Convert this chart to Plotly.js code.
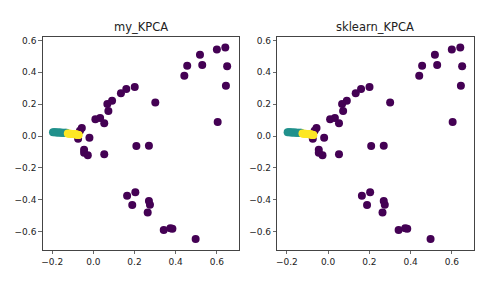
<!DOCTYPE html>
<html>
<head>
<meta charset="utf-8">
<script src="https://cdn.plot.ly/plotly-3.0.1.min.js"></script>
<style>html,body{margin:0;padding:0;background:#fff;}#chart{width:496px;height:291px;}</style>
</head>
<body>
<div id="chart"></div>
<script>
// class 0 (purple)
const purpleX = [0.641,0.600,0.518,0.650,0.529,0.456,0.442,0.644,0.604,0.201,0.160,0.134,0.091,0.068,0.073,0.301,0.033,0.010,0.053,-0.056,-0.065,-0.019,-0.074,0.209,0.270,-0.045,-0.045,-0.027,0.053,0.164,0.204,0.189,0.270,0.275,0.264,0.342,0.374,0.384,0.497];
const purpleY = [0.556,0.543,0.510,0.437,0.445,0.441,0.378,0.316,0.088,0.307,0.295,0.268,0.221,0.201,0.157,0.211,0.113,0.105,0.080,0.050,0.033,-0.011,-0.017,-0.063,-0.061,-0.086,-0.105,-0.121,-0.115,-0.374,-0.353,-0.433,-0.408,-0.431,-0.479,-0.589,-0.579,-0.581,-0.646];
// class 1 (teal)
const tealX = [-0.196,-0.190,-0.184,-0.178,-0.172,-0.166,-0.160,-0.154,-0.148,-0.142,-0.136,-0.131];
const tealY = [0.023,0.023,0.023,0.022,0.022,0.022,0.022,0.021,0.021,0.021,0.020,0.020];
// class 2 (yellow)
const yellowX = [-0.124,-0.119,-0.114,-0.109,-0.104,-0.100,-0.096,-0.092,-0.088,-0.084,-0.080,-0.077,-0.074,-0.071];
const yellowY = [0.016,0.015,0.015,0.014,0.013,0.013,0.012,0.011,0.011,0.010,0.009,0.008,0.007,0.006];

const titles = ["my_KPCA", "sklearn_KPCA"];
const tickVals = [-0.6,-0.4,-0.2,0.0,0.2,0.4,0.6];
const tickText = ["\u22120.6","\u22120.4","\u22120.2","0.0","0.2","0.4","0.6"];
const xTickVals = [-0.2,0.0,0.2,0.4,0.6];
const xTickText = ["\u22120.2","0.0","0.2","0.4","0.6"];

const colors = ["#440154","#21918c","#fde725"];
const msize = 8;
const traces = [];
["x","x2"].forEach((xa, i) => {
  const ya = i === 0 ? "y" : "y2";
  [[purpleX,purpleY,colors[0]],[tealX,tealY,colors[1]],[yellowX,yellowY,colors[2]]].forEach(s => {
    traces.push({x:s[0], y:s[1], xaxis:xa, yaxis:ya, type:"scatter", mode:"markers",
      marker:{color:s[2], size:msize, line:{width:0}}, showlegend:false, hoverinfo:"none"});
  });
});

const font = {family:"DejaVu Sans, sans-serif", size:9, color:"#222"};
function xax(domain, anchor){
  return {domain:domain, anchor:anchor, range:[-0.246,0.706], showgrid:false, zeroline:false,
    showline:true, mirror:true, linecolor:"#444", linewidth:1, ticks:"outside", ticklen:3.5, tickwidth:0.8, tickcolor:"#444",
    tickmode:"array", tickvals:xTickVals, ticktext:xTickText, tickfont:font, fixedrange:true};
}
function yax(anchor){
  return {domain:[0.1409,0.8739], anchor:anchor, range:[-0.715,0.623], showgrid:false, zeroline:false,
    showline:true, mirror:true, linecolor:"#444", linewidth:1, ticks:"outside", ticklen:3.5, tickwidth:0.8, tickcolor:"#444",
    tickmode:"array", tickvals:tickVals, ticktext:tickText, tickfont:font, fixedrange:true};
}
const titleFont = {family:"DejaVu Sans, sans-serif", size:11.5, color:"#222"};
const layout = {
  width:496, height:291, margin:{l:0,r:0,t:0,b:0}, paper_bgcolor:"#fff", plot_bgcolor:"#fff",
  xaxis: xax([0.0861,0.4812],"y"), yaxis: yax("x"),
  xaxis2: xax([0.5591,0.9550],"y2"), yaxis2: yax("x2"),
  annotations: [
    {text:titles[0], xref:"paper", yref:"paper", x:(0.0861+0.4812)/2, y:1-26.5/291, xanchor:"center", yanchor:"middle", showarrow:false, font:titleFont},
    {text:titles[1], xref:"paper", yref:"paper", x:(0.5591+0.9550)/2, y:1-26.5/291, xanchor:"center", yanchor:"middle", showarrow:false, font:titleFont}
  ]
};
Plotly.newPlot("chart", traces, layout, {staticPlot:true, displayModeBar:false});
</script>
</body>
</html>
